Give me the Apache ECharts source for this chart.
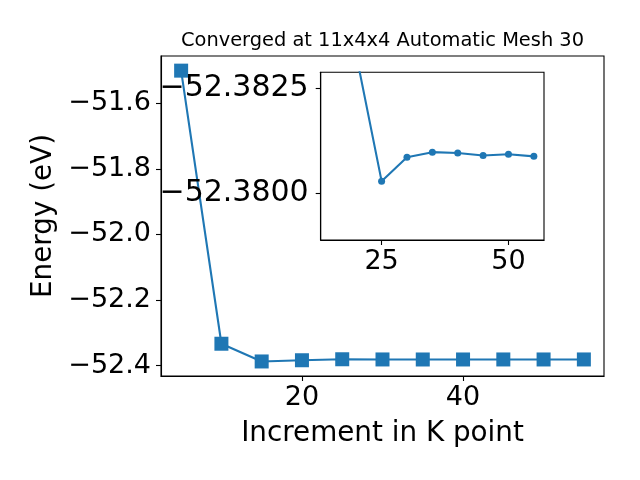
<!DOCTYPE html>
<html>
<head>
<meta charset="utf-8">
<script src="https://cdn.jsdelivr.net/npm/echarts@6/dist/echarts.min.js"></script>
<style>html,body{margin:0;padding:0;background:#fff}#c{width:640px;height:480px}</style>
</head>
<body>
<div id="c"></div>
<script>
const kPoints = [5, 10, 15, 20, 25, 30, 35, 40, 45, 50, 55];
const energies = [-51.501, -52.333, -52.387, -52.3833, -52.38029, -52.38086, -52.38098, -52.38096, -52.38090, -52.38093, -52.38088];
const insetStart = 2; // inset plots from k = 15 onwards
const mainXTicks = [20, 40];
const mainYTicks = [-52.4, -52.2, -52.0, -51.8, -51.6];
const insetXTicks = [25, 50];
const insetYTicks = [-52.3825, -52.38];
const titleText = 'Converged at 11x4x4 Automatic Mesh 30';
const xName = 'Increment in K point';
const yName = 'Energy (eV)';

const blue = '#1f77b4';
const font = 'DejaVu Sans';
const minus = s => s.replace('-', '\u2212');
const pts = kPoints.map((k, i) => [k, energies[i]]);
const insetPts = pts.slice(insetStart);

const chart = echarts.init(document.getElementById('c'), null, {renderer: 'canvas'});
const axisCommon = {
  axisLine: {show: true, onZero: false, lineStyle: {color: '#000', width: 1.1}},
  axisTick: {show: true, inside: false, length: 5, lineStyle: {color: '#000', width: 1.1}},
  splitLine: {show: false}
};
chart.setOption({
  animation: false,
  graphic: [{type: 'text', x: 382.5, y: 41, z: 10,
    style: {text: titleText, fontFamily: font, fontSize: 19.4, fill: '#000', align: 'center', verticalAlign: 'middle'}}],
  grid: [
    {left: 161, top: 56, width: 443, height: 320, show: true, borderColor: '#000', borderWidth: 1.1, backgroundColor: '#fff', z: 0},
    {left: 320.7, top: 72.3, width: 223.3, height: 167.7, show: true, borderColor: '#000', borderWidth: 1.1, backgroundColor: '#fff', z: 5}
  ],
  xAxis: [
    Object.assign({}, axisCommon, {type: 'value', gridIndex: 0, min: 2.5, max: 57.5,
      axisTick: Object.assign({}, axisCommon.axisTick, {customValues: mainXTicks}),
      axisLabel: {customValues: mainXTicks, fontFamily: font, fontSize: 27, color: '#000', margin: 8, formatter: v => minus(String(v))},
      name: xName, nameLocation: 'middle', nameGap: 44, nameTextStyle: {fontFamily: font, fontSize: 27.8, color: '#000'}}),
    Object.assign({}, axisCommon, {type: 'value', gridIndex: 1, min: 13, max: 57, z: 6,
      axisTick: Object.assign({}, axisCommon.axisTick, {customValues: insetXTicks}),
      axisLabel: {customValues: insetXTicks, fontFamily: font, fontSize: 27, color: '#000', margin: 8, formatter: v => minus(String(v))}})
  ],
  yAxis: [
    Object.assign({}, axisCommon, {type: 'value', gridIndex: 0, min: -52.4313, max: -51.4564,
      axisTick: Object.assign({}, axisCommon.axisTick, {customValues: mainYTicks}),
      axisLabel: {customValues: mainYTicks, fontFamily: font, fontSize: 27, color: '#000', margin: 10, formatter: v => minus(v.toFixed(1))},
      name: yName, nameLocation: 'middle', nameGap: 98, nameTextStyle: {fontFamily: font, fontSize: 27.8, color: '#000'}}),
    Object.assign({}, axisCommon, {type: 'value', gridIndex: 1, min: -52.38288, max: -52.37889, inverse: true, z: 6,
      axisTick: Object.assign({}, axisCommon.axisTick, {customValues: insetYTicks}),
      axisLabel: {customValues: insetYTicks, fontFamily: font, fontSize: 30, color: '#000', margin: 12, formatter: v => minus(v.toFixed(4))}})
  ],
  series: [
    {type: 'line', xAxisIndex: 0, yAxisIndex: 0, data: pts, symbol: 'rect', symbolSize: 14,
      lineStyle: {color: blue, width: 2.1}, itemStyle: {color: blue}, z: 2},
    {type: 'line', xAxisIndex: 1, yAxisIndex: 1, data: insetPts, symbol: 'circle', symbolSize: 7, clip: true,
      lineStyle: {color: blue, width: 2.1}, itemStyle: {color: blue}, z: 7}
  ]
});
</script>
</body>
</html>
